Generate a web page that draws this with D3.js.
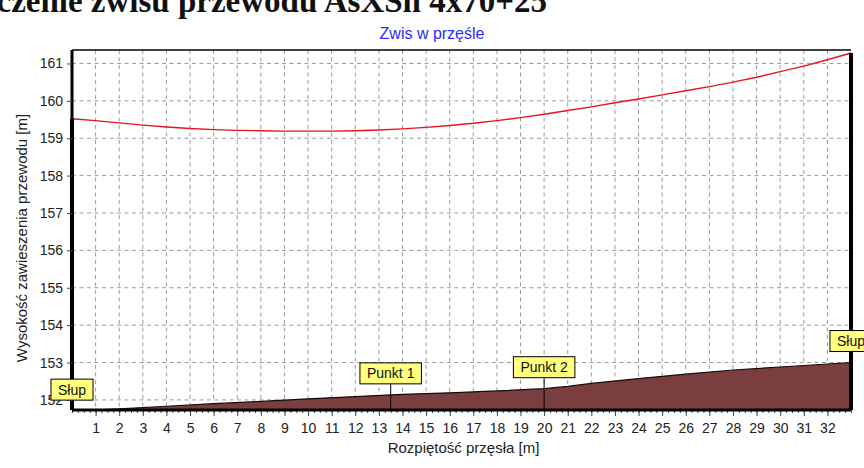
<!DOCTYPE html>
<html>
<head>
<meta charset="utf-8">
<script src="https://cdn.jsdelivr.net/npm/d3@7"></script>
<style>
  body { margin: 0; background: #fff; }
  svg { display: block; font-family: "Liberation Sans", Arial, sans-serif; }
</style>
</head>
<body>
<div id="chart"></div>
<script>
// wire (przewód) heights, per metre of span
var spanX = [0, 1, 2, 3, 4, 5, 6, 7, 8, 9, 10, 11, 12, 13, 14, 15, 16, 17, 18, 19, 20,
    21, 22, 23, 24, 25, 26, 27, 28, 29, 30, 31, 32, 33];
var wireY = [159.52, 159.47, 159.41, 159.35, 159.30, 159.26, 159.23, 159.21, 159.20, 159.19,
    159.19, 159.19, 159.20, 159.22, 159.25, 159.29, 159.34, 159.40, 159.47, 159.55, 159.64,
    159.74, 159.84, 159.95, 160.05, 160.16, 160.27, 160.38, 160.50, 160.63, 160.78, 160.93,
    161.10, 161.28];

// terrain profile
var groundX = [0, 2, 4, 6, 8, 10, 12, 14, 16, 18, 20, 21, 22, 24, 26, 28, 30, 32, 33];
var groundY = [151.70, 151.76, 151.83, 151.90, 151.96, 152.03, 152.09, 152.15, 152.19, 152.24,
    152.30, 152.36, 152.44, 152.57, 152.69, 152.80, 152.88, 152.96, 153.00];

// labelled points
var markerNames = ["Słup", "Punkt 1", "Punkt 2", "Słup"];
var markerX = [0, 13.5, 20, 33];

var xTicks = d3.range(1, 33);
var yTicks = [152, 153, 154, 155, 156, 157, 158, 159, 160, 161];

var svgWidth = 864;
var svgHeight = 468;

var margin = { top: 50, right: 13, bottom: 58, left: 72 };
var width = svgWidth - margin.left - margin.right;
var height = svgHeight - margin.top - margin.bottom;

var svg = d3.select("#chart")
    .append("svg")
    .attr("width", svgWidth)
    .attr("height", svgHeight);

// report header, cut by the top edge as in the scan
svg.append("text")
    .attr("x", 547)
    .attr("y", 12)
    .attr("text-anchor", "end")
    .style("font-family", "'Liberation Serif', 'Times New Roman', serif")
    .style("font-weight", "bold")
    .style("font-size", "33px")
    .style("fill", "#111")
    .text("Obliczenie zwisu przewodu AsXSn 4x70+25");

svg.append("text")
    .attr("x", 432)
    .attr("y", 39)
    .attr("text-anchor", "middle")
    .style("font-size", "16px")
    .style("fill", "#2a2aff")
    .text("Zwis w przęśle");

var chartGroup = svg.append("g")
    .attr("transform", `translate(${margin.left}, ${margin.top})`);

var xScale = d3.scaleLinear()
    .domain([0, 33])
    .range([0, width]);

var yScale = d3.scaleLinear()
    .domain([151.73, 161.36])
    .range([height, 0]);

chartGroup.append("defs").append("clipPath")
    .attr("id", "plot")
    .append("rect")
    .attr("width", width)
    .attr("height", height);

// grid
chartGroup.append("g")
    .selectAll("line")
    .data(xTicks)
    .enter()
    .append("line")
    .attr("x1", d => xScale(d))
    .attr("x2", d => xScale(d))
    .attr("y1", 0)
    .attr("y2", height)
    .attr("stroke", "#9a9a9a")
    .attr("stroke-dasharray", "4,3.5");

chartGroup.append("g")
    .selectAll("line")
    .data(yTicks)
    .enter()
    .append("line")
    .attr("x1", 0)
    .attr("x2", width)
    .attr("y1", d => yScale(d))
    .attr("y2", d => yScale(d))
    .attr("stroke", "#9a9a9a")
    .attr("stroke-dasharray", "4,3.5");

// terrain
var ground = groundX.map((x, i) => [x, groundY[i]]);
var area = d3.area()
    .x(d => xScale(d[0]))
    .y0(height)
    .y1(d => yScale(d[1]));

chartGroup.append("path")
    .datum(ground)
    .attr("clip-path", "url(#plot)")
    .attr("d", area)
    .attr("fill", "#7b3e3e");

chartGroup.append("path")
    .datum(ground)
    .attr("clip-path", "url(#plot)")
    .attr("d", d3.line().x(d => xScale(d[0])).y(d => yScale(d[1])))
    .attr("fill", "none")
    .attr("stroke", "#1a0a0a")
    .attr("stroke-width", 1.2);

// wire
var wire = spanX.map((x, i) => [x, wireY[i]]);
chartGroup.append("path")
    .datum(wire)
    .attr("d", d3.line().x(d => xScale(d[0])).y(d => yScale(d[1])))
    .attr("fill", "none")
    .attr("stroke", "#e8141c")
    .attr("stroke-width", 1.4);

// frame and posts
chartGroup.append("line")
    .attr("x1", 0).attr("x2", width)
    .attr("y1", 0).attr("y2", 0)
    .attr("stroke", "#000")
    .attr("stroke-width", 1.5);
chartGroup.append("line")
    .attr("x1", 0).attr("x2", 0)
    .attr("y1", 0).attr("y2", height)
    .attr("stroke", "#000")
    .attr("stroke-width", 3);
chartGroup.append("line")
    .attr("x1", width).attr("x2", width)
    .attr("y1", yScale(wireY[wireY.length - 1])).attr("y2", height)
    .attr("stroke", "#000")
    .attr("stroke-width", 4);
chartGroup.append("line")
    .attr("x1", 0).attr("x2", 0)
    .attr("y1", yScale(wireY[0])).attr("y2", height)
    .attr("stroke", "#000")
    .attr("stroke-width", 4);

// axes
var bottomAxis = d3.axisBottom(xScale)
    .tickValues(xTicks)
    .tickSize(6)
    .tickSizeOuter(0);

var minorAxis = d3.axisBottom(xScale)
    .tickValues(d3.range(0, 33.01, 0.25))
    .tickSize(3)
    .tickSizeOuter(0)
    .tickFormat("");

var leftAxis = d3.axisLeft(yScale)
    .tickValues(yTicks)
    .tickSize(5)
    .tickSizeOuter(0);

chartGroup.append("g")
    .attr("transform", `translate(0, ${height})`)
    .call(minorAxis)
    .call(g => g.select(".domain").remove())
    .selectAll("line")
    .attr("stroke", "#444");

var xAxis = chartGroup.append("g")
    .attr("transform", `translate(0, ${height})`)
    .call(bottomAxis);
xAxis.select(".domain").remove();
xAxis.selectAll("line").attr("stroke", "#444");
xAxis.selectAll("text")
    .attr("y", 13)
    .style("font-size", "14px")
    .style("fill", "#222");

var yAxis = chartGroup.append("g")
    .call(leftAxis);
yAxis.select(".domain").remove();
yAxis.selectAll("line").attr("stroke", "#444");
yAxis.selectAll("text")
    .attr("x", -9)
    .style("font-size", "14px")
    .style("fill", "#222");

chartGroup.append("line")
    .attr("x1", 0).attr("x2", width)
    .attr("y1", height).attr("y2", height)
    .attr("stroke", "#000")
    .attr("stroke-width", 3);

// axis titles
chartGroup.append("text")
    .attr("x", width / 2 + 2)
    .attr("y", height + 43)
    .attr("text-anchor", "middle")
    .style("font-size", "15px")
    .style("fill", "#222")
    .text("Rozpiętość przęsła [m]");

chartGroup.append("text")
    .attr("transform", "rotate(-90)")
    .attr("x", -(height / 2) - 8)
    .attr("y", -45)
    .attr("text-anchor", "middle")
    .style("font-size", "15px")
    .style("fill", "#222")
    .text("Wysokość zawieszenia przewodu [m]");

// markers
var groundAt = d3.scaleLinear().domain(groundX).range(groundY);

markerNames.forEach(function (name, i) {
    var cx = xScale(markerX[i]);
    var gy = yScale(groundAt(markerX[i]));
    var boxBottom = gy - 11;
    var g = chartGroup.append("g");
    if (i > 0 && i < markerNames.length - 1) {
        g.append("line")
            .attr("x1", cx).attr("x2", cx)
            .attr("y1", boxBottom).attr("y2", height)
            .attr("stroke", "#000");
    }
    var rect = g.append("rect");
    var label = g.append("text")
        .attr("x", cx)
        .attr("y", boxBottom - 5.5)
        .attr("text-anchor", "middle")
        .style("font-size", "14px")
        .style("fill", "#111")
        .text(name);
    var w = label.node().getComputedTextLength() + 14;
    rect.attr("x", cx - w / 2)
        .attr("y", boxBottom - 21)
        .attr("width", w)
        .attr("height", 21)
        .attr("fill", "#ffff80")
        .attr("stroke", "#000");
});
</script>
</body>
</html>
